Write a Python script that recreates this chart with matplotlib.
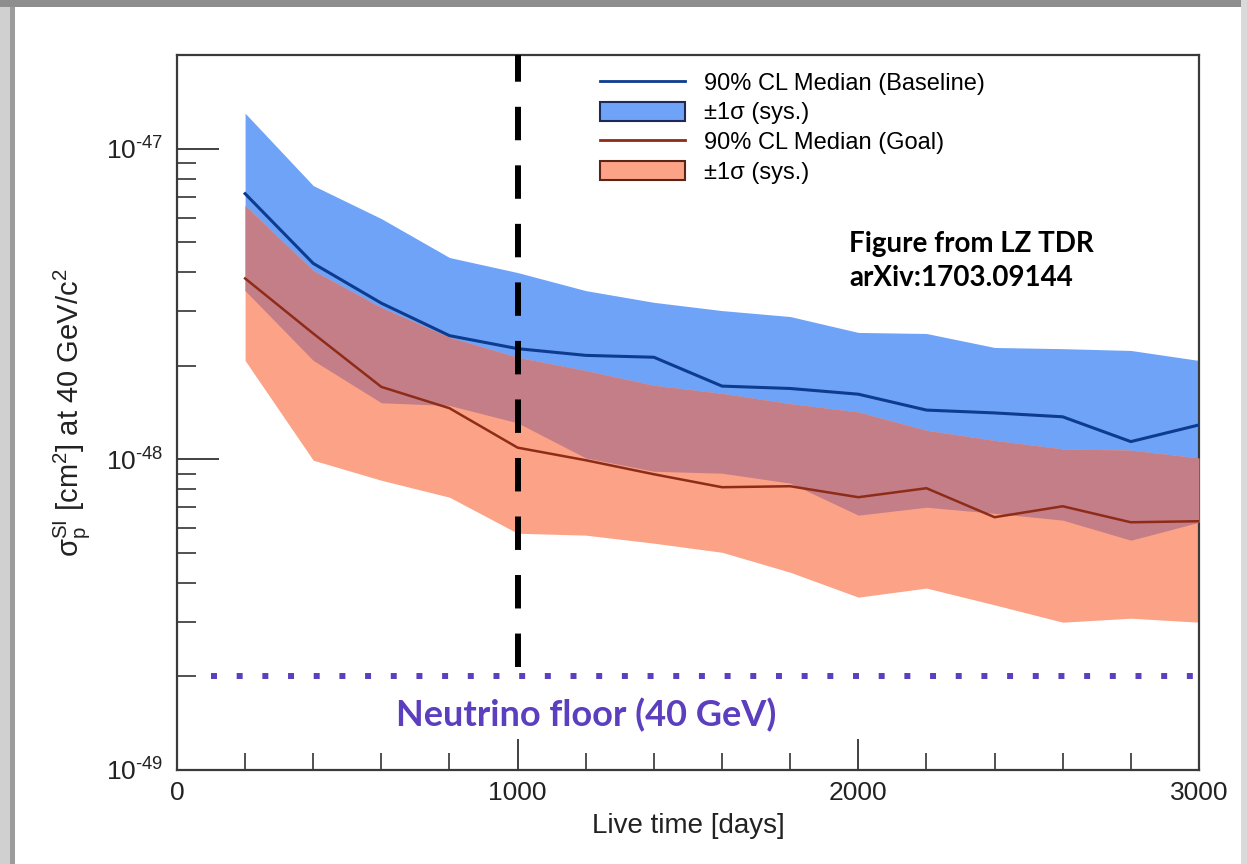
import numpy as np
import matplotlib
matplotlib.use("Agg")
from matplotlib import pyplot as plt
from matplotlib.patches import Rectangle, Patch
from matplotlib.lines import Line2D
from matplotlib.ticker import LogLocator, MultipleLocator, NullFormatter, FuncFormatter, FixedLocator

# live time [days]
days = [200, 400, 600, 800, 1000, 1200, 1400, 1600, 1800, 2000, 2200, 2400, 2600, 2800, 3000]

# baseline: median and +-1 sigma band
base_med = [7.16e-48, 4.27e-48, 3.18e-48, 2.50e-48, 2.27e-48, 2.16e-48, 2.13e-48, 1.72e-48,
            1.69e-48, 1.62e-48, 1.44e-48, 1.41e-48, 1.37e-48, 1.14e-48, 1.29e-48]
base_hi = [1.30e-47, 7.6e-48, 5.95e-48, 4.46e-48, 3.99e-48, 3.49e-48, 3.2e-48, 3.01e-48,
           2.88e-48, 2.56e-48, 2.54e-48, 2.29e-48, 2.27e-48, 2.24e-48, 2.08e-48]
base_lo = [3.49e-48, 2.08e-48, 1.52e-48, 1.49e-48, 1.31e-48, 1.01e-48, 9.15e-49, 9.02e-49,
           8.38e-49, 6.61e-49, 7.01e-49, 6.70e-49, 6.37e-49, 5.49e-49, 6.27e-49]

# goal: median and +-1 sigma band
goal_med = [3.82e-48, 2.54e-48, 1.71e-48, 1.46e-48, 1.09e-48, 9.93e-49, 8.95e-49, 8.13e-49,
            8.19e-49, 7.55e-49, 8.07e-49, 6.51e-49, 7.06e-49, 6.27e-49, 6.32e-49]
goal_hi = [6.56e-48, 4.05e-48, 3.08e-48, 2.47e-48, 2.13e-48, 1.93e-48, 1.73e-48, 1.63e-48,
           1.51e-48, 1.42e-48, 1.24e-48, 1.15e-48, 1.08e-48, 1.07e-48, 1.01e-48]
goal_lo = [2.08e-48, 9.93e-49, 8.56e-49, 7.55e-49, 5.78e-49, 5.70e-49, 5.37e-49, 5.02e-49,
           4.33e-49, 3.60e-49, 3.85e-49, 3.40e-49, 2.99e-49, 3.08e-49, 2.99e-49]

nu_floor = 2e-49
lz_days = 1000
y_decades = [1e-49, 1e-48, 1e-47]

c_blue = "#6fa3f7"
c_salmon = "#fca286"
c_mauve = "#c47e88"
c_blue_line = "#0d3b8e"
c_red_line = "#8e2c18"
c_purple = "#5b3fbf"

plt.rcParams["font.family"] = ["Liberation Sans", "DejaVu Sans"]
plt.rcParams["mathtext.fontset"] = "custom"
plt.rcParams["mathtext.rm"] = "Liberation Sans"
plt.rcParams["mathtext.it"] = "Liberation Sans:italic"

fig = plt.figure(figsize=(12.47, 8.64), dpi=100)
fig.patch.set_facecolor("white")

# grey slide frame (top, left, right)
W, H = 1247.0, 864.0
for (x0, y0, w, h, c) in [(0, 0, 10, H, "#d0d0d0"), (10, 0, 5, H, "#9c9c9c"),
                          (0, H - 7, W, 7, "#8e8e8e"), (W - 6, 0, 6, H, "#dadada")]:
    fig.add_artist(Rectangle((x0 / W, y0 / H), w / W, h / H, transform=fig.transFigure,
                             facecolor=c, edgecolor="none", zorder=0))

ax = fig.add_axes([0.1419, 0.1088, 0.8196, 0.8275])

x = np.array(days)
bh, bl = np.array(base_hi), np.array(base_lo)
gh, gl = np.array(goal_hi), np.array(goal_lo)

ax.fill_between(x, bl, bh, color=c_blue, lw=0, zorder=1)
ax.fill_between(x, gl, gh, color=c_salmon, lw=0, zorder=2)
ax.fill_between(x, np.maximum(bl, gl), np.minimum(bh, gh), color=c_mauve, lw=0, zorder=3)
ax.plot(x, base_med, color=c_blue_line, lw=2.2, zorder=4)
ax.plot(x, goal_med, color=c_red_line, lw=1.8, zorder=4)

# LZ 1000 live days
ax.vlines(lz_days, 2.15e-49, 2e-47, colors="black", lw=4.3, linestyles=(0, (5.6, 4.2)), zorder=5)
# neutrino floor
ax.hlines(nu_floor, 100, 3000, colors=c_purple, lw=4.3, linestyles=(0, (1, 3.3)), zorder=5)
ax.text(1200, 1.5e-49, "Neutrino floor (40 GeV)", color=c_purple, fontsize=26,
        fontweight="bold", family=["Lato", "DejaVu Sans"], ha="center", va="center")
ax.text(0.658, 0.754, "Figure from LZ TDR\narXiv:1703.09144", transform=ax.transAxes,
        fontsize=20, fontweight="bold", family=["Lato", "DejaVu Sans"], ha="left",
        va="top", linespacing=1.4)

ax.set_yscale("log")
ax.set_xlim(0, 3000)
ax.set_ylim(1e-49, 2e-47)
ax.xaxis.set_major_locator(MultipleLocator(1000))
ax.xaxis.set_minor_locator(MultipleLocator(200))
ax.yaxis.set_major_locator(FixedLocator(y_decades))
ax.yaxis.set_minor_locator(LogLocator(base=10, subs=np.arange(2, 10), numticks=10))
ax.yaxis.set_major_formatter(FuncFormatter(
    lambda v, p: r"$10^{\text{-%d}}$" % round(-np.log10(v))))
ax.yaxis.set_minor_formatter(NullFormatter())

ax.tick_params(which="both", direction="in", top=False, right=False, colors="#333333",
               labelcolor="#222222")
ax.tick_params(axis="y", which="major", length=30, width=1.3, labelsize=19, pad=10)
ax.tick_params(axis="y", which="minor", length=14, width=1.2)
ax.tick_params(axis="x", which="major", length=22, width=1.3, labelsize=19, pad=8)
ax.tick_params(axis="x", which="minor", length=12, width=1.2)
for s in ax.spines.values():
    s.set_color("#3a3a3a")
    s.set_linewidth(1.6)

ax.set_xlabel("Live time [days]", fontsize=20, color="#222222", labelpad=6)
ax.set_ylabel(r"σ$_{\rm p}^{\rm SI}$ [cm$^2$] at 40 GeV/c$^2$", fontsize=21,
              color="#222222", labelpad=10)

handles = [Line2D([], [], color=c_blue_line, lw=2),
           Patch(facecolor=c_blue, edgecolor="#1e2a55", lw=1.5),
           Line2D([], [], color=c_red_line, lw=2),
           Patch(facecolor=c_salmon, edgecolor="#5a2418", lw=1.5)]
labels = ["90% CL Median (Baseline)", "±1σ (sys.)", "90% CL Median (Goal)", "±1σ (sys.)"]
ax.legend(handles, labels, loc="upper left", bbox_to_anchor=(0.414, 0.976), frameon=False,
          fontsize=17, handlelength=3.6, handleheight=0.85, labelspacing=0.3,
          handletextpad=0.8, borderaxespad=0, borderpad=0)

fig.savefig("out.png", dpi=100, facecolor="white")
